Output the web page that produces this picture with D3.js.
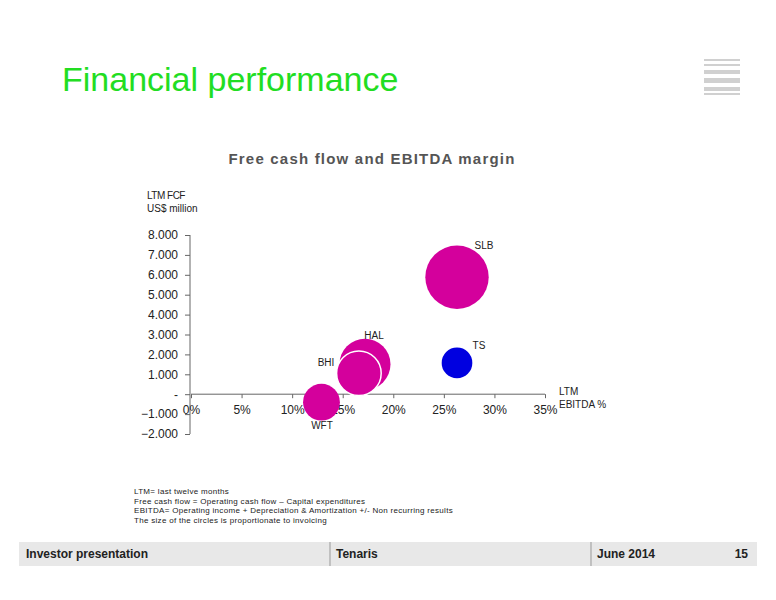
<!DOCTYPE html><html><head><meta charset="utf-8"><script src="https://cdn.jsdelivr.net/npm/d3@7"></script>
<style>body{margin:0;background:#fff}svg{font-family:"Liberation Sans",Arial,sans-serif}</style></head><body><svg id="c" width="776" height="600"></svg><script>
const companies=["SLB","HAL","BHI","WFT","TS"];
const ebitdaPct=[26.3,17.2,16.6,12.9,26.3];
const fcf=[5880,1500,1050,-400,1570];
const revenue=[45.3,29.4,22.4,15.3,10.6];
const colors=["#d4009c","#d4009c","#d4009c","#d4009c","#0000e0"];
const yTicks=[8000,7000,6000,5000,4000,3000,2000,1000,0,-1000,-2000];
const xTicks=[0,5,10,15,20,25,30,35];
const svg=d3.select("#c");
// top-right decoration
[[704,59,36,2],[704,64,36,2],[704,70,36,4],[704,78,36,5],[704,87,36,4],[704,93,36,2]].forEach(r=>svg.append("rect").attr("x",r[0]).attr("y",r[1]).attr("width",r[2]).attr("height",r[3]).attr("fill","#d0d0d0"));
svg.append("text").attr("x",62).attr("y",91).attr("font-size",34).attr("fill","#22dd22").text("Financial performance");
svg.append("text").attr("x",372).attr("y",164).attr("text-anchor","middle").attr("font-size",15).attr("font-weight","bold").attr("fill","#555").attr("letter-spacing",1.2).text("Free cash flow and EBITDA margin");
const x=d3.scaleLinear().domain([0,35]).range([191,545]);
const y=d3.scaleLinear().domain([-2000,8000]).range([434,235]);
const r=d3.scaleSqrt().domain([0,45.3]).range([0,31.7]);
svg.append("text").attr("x",147).attr("y",199).attr("font-size",10).attr("fill","#222").attr("letter-spacing",-0.5).text("LTM FCF");
svg.append("text").attr("x",147).attr("y",212).attr("font-size",10).attr("fill","#222").text("US$ million");
const ya=svg.append("g").attr("transform","translate(190,0)").call(d3.axisLeft(y).tickValues(yTicks).tickSize(5).tickFormat(d=>d===0?"-":d3.format(",")(d).replace(/,/g,".")));
ya.selectAll("text").attr("font-size",12).attr("fill","#222").attr("x",-12).style("font-family","Liberation Sans");
ya.selectAll("line,path").attr("stroke","#666");
ya.select(".domain").attr("d","M0,434H0V235");
const xa=svg.append("g").attr("transform",`translate(0,${y(0)})`).call(d3.axisBottom(x).tickValues(xTicks).tickSize(4).tickFormat(d=>d+"%"));
xa.selectAll("text").attr("font-size",12).attr("fill","#222").attr("dy","1.1em").style("font-family","Liberation Sans");
xa.selectAll("line,path").attr("stroke","#666");
xa.select(".domain").attr("d",`M${x(0)},0H${x(35)}`);
const data=companies.map((c,i)=>({c,x:ebitdaPct[i],y:fcf[i],r:revenue[i],col:colors[i]}));
const order=["SLB","HAL","BHI","WFT","TS"];
svg.selectAll("circle.b").data(order.map(o=>data.find(d=>d.c===o))).enter().append("circle")
 .attr("cx",d=>x(d.x)).attr("cy",d=>y(d.y)).attr("r",d=>r(d.r)).attr("fill",d=>d.col).attr("stroke","#fff").attr("stroke-width",d=>d.c==="BHI"?1.5:0);
const lab={SLB:[484,249],HAL:[374,339],BHI:[326,366],WFT:[322,429],TS:[479,349]};
data.forEach(d=>svg.append("text").attr("x",lab[d.c][0]).attr("y",lab[d.c][1]).attr("text-anchor","middle").attr("font-size",10).attr("fill","#222").text(d.c));
svg.append("text").attr("x",559).attr("y",395).attr("font-size",10).attr("fill","#222").text("LTM");
svg.append("text").attr("x",559).attr("y",408).attr("font-size",10).attr("fill","#222").text("EBITDA %");
["LTM= last twelve months","Free cash flow = Operating cash flow – Capital expenditures","EBITDA= Operating income + Depreciation & Amortization +/- Non recurring results","The size of the circles is proportionate to invoicing"].forEach((t,i)=>svg.append("text").attr("x",134).attr("y",494+i*9.7).attr("font-size",8).attr("fill","#222").attr("letter-spacing",0.3).text(t));
svg.append("rect").attr("x",19).attr("y",542).attr("width",738).attr("height",24).attr("fill","#e8e8e8");
[330,591].forEach(v=>svg.append("line").attr("x1",v).attr("x2",v).attr("y1",542).attr("y2",566).attr("stroke","#999"));
[["Investor presentation",26,"start"],["Tenaris",336,"start"],["June 2014",597,"start"],["15",748,"end"]].forEach(t=>svg.append("text").attr("x",t[1]).attr("y",558).attr("text-anchor",t[2]).attr("font-size",12).attr("font-weight","bold").attr("fill","#222").text(t[0]));
</script></body></html>
